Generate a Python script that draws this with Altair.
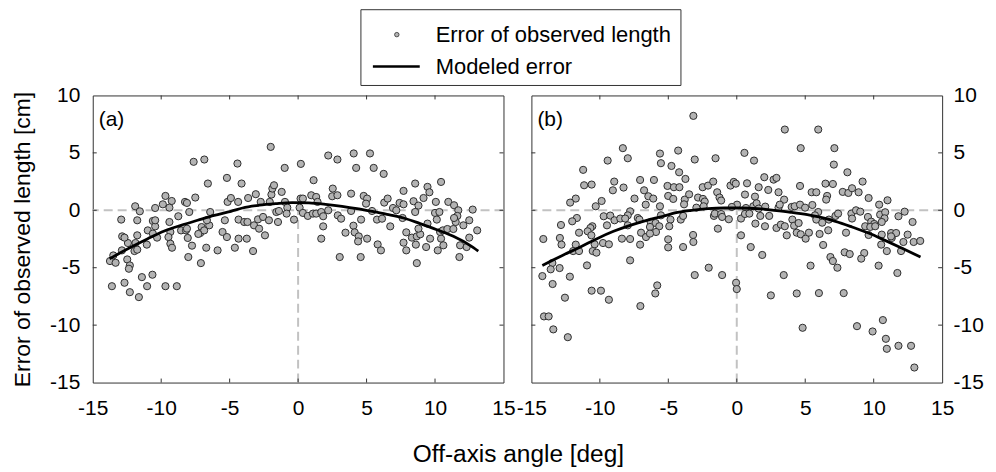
import altair as alt
import pandas as pd

FONT = "Liberation Sans"
X_DOMAIN = [-15, 15]
Y_DOMAIN = [-15, 10]
X_LABELS = [-15, -10, -5, 0, 5, 10, 15]
Y_LABELS = [-15, -10, -5, 0, 5, 10]
X_TICKS = [-10, -5, 0, 5, 10]
Y_TICKS = [-10, -5, 0, 5]

PANEL_TAGS = ["(a)", "(b)"]
LEGEND_LABELS = ["Error of observed length", "Modeled error"]
X_TITLE = "Off-axis angle [deg]"
Y_TITLE = "Error of observed length [cm]"

# panel (a): observed errors
A_X = [-7.63, -6.85, -6.59, -5.20, -9.69, -9.23, -9.88, -8.26, -8.12, -7.51, -9.40, -11.9, -11.56, -10.44,
       -12.92, -11.75, -10.61, -10.44, -9.40, -8.75, -7.95, -6.42, -5.15, -10.98, -10.61, -9.33, -8.55, -8.19,
       -7.05, -7.15, -6.86, -6.49, -6.66, -5.35, -5.52, -12.85, -12.43, -11.75, -11.88, -11.05, -10.30, -9.47,
       -9.33, -9.21, -8.06, -7.75, -7.29, -6.71, -5.88, -5.20, -11.95, -13.5, -12.87, -13.74, -13.33, -12.48,
       -12.29, -12.36, -8.02, -7.10, -11.41, -10.64, -13.6, -12.68, -12.29, -11.03, -9.69, -8.86, -11.63,
       -12.68, -8.12, -10.44, -11.75,
       -2.0, -4.43, -0.98, 0.20, 2.20, 2.87, 4.06, 5.25, 4.24, 5.52, -4.13, 1.13, -4.91, -4.38, -3.65, -3.09,
       -2.73, -2.07, -1.95, -1.88, -1.76, -1.20, -0.96, 0.18, 0.35, 0.96, 1.32, 1.42, 2.53, 2.49, 2.87, 3.87,
       4.79, 5.04, 4.96, -4.35, -3.94, -3.70, -3.22, -2.93, -2.56, -2.13, -2.85, -1.59, -1.40, -1.47, -0.79,
       -0.84, -0.30, 0.11, 0.35, 0.71, 1.08, 1.32, 1.69, 1.83, 2.20, 2.90, 3.14, 3.87, 4.60, 5.40, -4.35, -3.75,
       -4.62, -3.29, -2.42, 1.83, 1.69, 3.46, 4.04, 4.13, 4.43, 4.38, 5.04, 3.04, 4.57,
       6.25, 8.55, 9.45, 9.59, 10.44, 7.70, 6.29, 6.54, 6.93, 7.17, 7.41, 7.70, 8.43, 8.79, 9.16, 10.06, 8.55,
       10.0, 10.32, 10.97, 11.39, 11.70, 12.75, 11.63, 11.51, 10.13, 11.39, 5.76, 6.13, 7.63, 6.73, 7.90, 8.31,
       8.67, 8.92, 8.79, 9.45, 9.64, 10.37, 10.57, 10.44, 10.61, 10.90, 11.34, 12.07, 12.50, 13.08, 12.50,
       11.83, 12.31, 5.81, 6.05, 7.70, 7.90, 8.60, 9.35, 10.20, 11.78, 8.67]
A_Y = [4.22, 4.42, 2.33, 2.82, 1.25, 0.81, 0.52, 0.73, 0.64, 1.11, 0.23, 0.35, -0.09, 0.20,
       -0.81, -0.87, -0.93, -1.40, -1.02, -0.52, -0.15, -0.15, 0.73, -1.75, -2.03, -1.89, -1.75, -1.75,
       -1.46, -1.98, -1.75, -1.31, -0.87, -0.87, -1.89, -2.27, -2.85, -2.18, -2.85, -2.99, -2.38, -2.33,
       -2.91, -3.26, -2.41, -3.08, -2.06, -3.26, -3.49, -2.33, -3.55, -3.93, -3.49, -4.42, -4.57, -4.28,
       -4.80, -5.09, -4.07, -4.60, -5.82, -5.61, -6.61, -6.31, -7.13, -6.61, -6.61, -6.61, -7.56,
       -2.38, -1.60, -0.87, -3.43,
       5.52, 4.07, 3.69, 4.04, 4.77, 4.42, 4.95, 4.95, 3.69, 3.69, 2.33, 2.62, 1.07, 0.73, 1.07, 1.40,
       0.73, 0.73, 1.37, 1.89, 2.18, 1.60, 0.73, 1.02, 1.02, 1.31, 1.16, 0.73, 1.89, 1.22, 1.31, 1.45,
       1.25, 1.02, 0.58, -0.81, -1.02, -1.02, -1.31, -0.79, -0.58, -0.87, -1.60, -0.15, -0.06, -1.02, 0.23,
       -0.29, -0.81, 0.23, -0.23, -0.49, -0.29, -0.29, -0.15, -0.52, 0.0, -0.44, -0.73, -0.06, -0.81, -0.06,
       -2.47, -2.47, -3.26, -3.55, -2.18, -1.40, -2.47, -1.95, -1.34, -1.92, -2.27, -2.71, -2.47, -4.07, -4.07,
       3.17, 2.33, 2.04, 1.57, 2.47, 1.69, 0.67, 1.02, 0.20, 0.0, 0.64, 0.52, 0.79, 0.41, 1.07, 0.73, -0.15,
       -0.23, -0.15, 0.73, 0.44, 0.0, 0.06, -0.49, -1.02, -0.81, -0.67, -0.81, -0.73, -0.67, -1.40, -1.92,
       -2.38, -2.27, -2.09, -1.60, -1.16, -2.47, -1.89, -1.75, -2.47, -3.05, -1.63, -1.63, -1.31, -0.87,
       -1.75, -2.38, -3.05, -3.20, -2.97, -3.49, -2.82, -3.49, -2.99, -3.20, -3.49, -4.07, -4.60]

# panel (b): observed errors
B_X = [-8.32, -7.96, -9.43, -11.22, -5.61, -5.54, -11.15, -10.60, -8.95, -9.05, -8.27, -7.06, -6.05, -6.77,
       -6.46, -6.10, -7.47, -6.65, -11.76, -12.17, -9.87, -10.30, -7.79, -7.96, -9.72, -9.24, -8.93, -8.51,
       -8.15, -7.23, -6.29, -5.93, -5.66, -5.61, -11.68, -12.02, -12.84, -10.55, -10.69, -9.48, -7.96, -6.34,
       -5.90, -14.13, -12.92, -12.8, -11.52, -10.89, -10.62, -8.39, -7.79, -6.99, -6.63, -6.34, -7.06, -11.76,
       -11.95, -11.52, -10.38, -10.52, -9.77, -9.34, -10.94, -7.79, -13.47, -13.59, -12.94, -14.20, -12.19,
       -13.45, -12.55, -10.60, -9.92, -9.34, -7.04, -5.81, -5.95, -14.08, -13.74, -13.40, -12.34, -10.25, -7.11,
       -3.17, 3.51, 4.67, -4.28, 0.56, -1.55, -3.07, 1.26, -4.77, -4.21, -3.75, -5.06, -4.59, -4.19, -2.49,
       -2.10, -1.72, -0.46, -0.22, -0.07, 0.75, 1.60, 2.01, 2.69, 2.90, 4.62, 2.30, 3.05, 3.46, -5.01, -4.64,
       -3.80, -3.48, -3.85, -2.83, -2.47, -2.34, -1.43, -1.26, -1.14, 0.60, 1.33, -2.95, -2.42, 0.02, -0.36,
       0.67, 1.21, 1.45, 1.60, 2.08, 3.05, 3.14, 4.01, 4.23, 4.62, 4.99, -5.54, -4.84, -4.09, -3.92, -1.67,
       -1.60, -1.14, -1.07, -0.58, 0.31, 0.60, 0.92, 1.72, 2.37, -4.93, -1.38, 1.36, 2.06, 2.90, 3.22, 3.51,
       4.06, 4.19, 4.52, 4.38, 4.67, 5.03, 3.65, 0.31, -5.01, -5.01, -3.19, -3.17, -3.92, 1.02, 1.86, -3.07,
       -2.05, -1.07, -0.05, 0.0, 3.43, 2.49, 4.38, 4.81,
       5.95, 7.13, 7.09, 8.08, 9.19, 5.47, 5.81, 6.48, 7.02, 6.60, 6.53, 7.74, 8.15, 8.42, 8.90, 9.63, 11.01,
       10.40, 5.52, 5.95, 5.71, 5.81, 6.24, 6.73, 7.21, 7.40, 8.37, 8.42, 8.71, 9.02, 9.58, 9.82, 10.04, 10.47,
       10.84, 10.79, 10.59, 11.81, 12.26, 12.84, 5.27, 6.05, 6.31, 6.68, 7.98, 9.38, 9.75, 10.11, 9.63, 10.59,
       11.27, 11.64, 11.32, 12.17, 12.48, 12.92, 13.40, 10.55, 10.96, 12.0, 7.88, 8.25, 6.84, 7.02, 7.35, 9.31,
       9.09, 5.39, 10.36, 11.73, 6.0, 7.81, 8.78, 9.92, 10.67, 10.89, 10.96, 11.81, 12.73, 12.97, 11.27]
B_Y = [5.41, 4.53, 4.33, 3.52, 4.94, 4.10, 2.18, 2.24, 2.50, 1.74, 1.98, 2.64, 2.64, 1.74,
       1.22, 1.02, 1.02, 0.49, 1.02, 0.67, 0.81, 0.35, -0.09, -0.44, -0.52, -0.46, -0.87, -0.72,
       -0.72, -0.67, -1.02, -1.11, -1.39, 0.35, -0.67, -0.96, -1.28, -1.39, -1.54, -1.31, -1.31, -1.45,
       -1.89, -2.50, -2.41, -2.99, -1.95, -1.83, -2.18, -2.47, -2.50, -1.95, -2.33, -2.03, -2.99, -2.99,
       -3.55, -3.55, -2.96, -3.55, -2.85, -2.96, -4.80, -4.36, -4.59, -5.14, -5.03, -5.73, -5.78,
       -6.42, -7.61, -7.0, -7.0, -7.79, -8.34, -6.54, -7.24, -9.24, -9.24, -10.37, -11.05, -3.69, -0.81,
       8.22, 7.03, 5.41, 5.20, 5.0, 4.53, 4.42, 4.33, 3.86, 3.31, 2.73, 2.12, 2.01, 2.01, 2.01,
       2.15, 2.50, 2.15, 2.47, 2.32, 2.35, 2.01, 2.88, 2.67, 2.82, 2.12, 1.77, 1.57, 0.93, 1.25, 0.99,
       0.93, 1.39, 0.52, 1.11, 0.99, 0.76, 1.57, 1.11, 0.85, 1.37, 1.19, 0.23, 0.35, 0.49, 0.29,
       0.20, 0.35, 0.61, 0.15, 0.32, 0.23, 0.49, 0.29, 0.35, 0.49, 0.23, -0.44, -0.81, -0.81, -0.49, -0.49,
       -0.29, -0.32, -0.58, -0.78, -0.72, -0.32, -0.29, -0.49, -0.49, -1.39, -1.60, -1.16, -1.39, -1.54, -1.25,
       -1.39, -0.81, -1.34, -1.11, -1.95, -2.09, -2.47, -2.18, -2.18, -2.53, -3.23, -2.15, -2.76, -3.20, -3.20,
       -3.89, -5.64, -5.0, -5.64, -6.31, -6.86, -5.64, -7.41, -7.24, -10.23,
       7.03, 5.41, 3.98, 3.31, 2.50, 1.57, 1.57, 2.32, 2.29, 1.25, 0.93, 1.60, 1.51, 1.92, 1.57, 1.07, 0.87,
       0.49, 0.46, -0.15, -0.44, -0.81, -1.08, -0.81, -0.49, -0.29, -0.29, -0.72, 0.0, -0.12, -0.58, -0.99,
       -1.19, -0.38, -0.17, -0.70, -1.02, -0.52, -0.12, -1.02, -1.95, -2.06, -3.02, -1.74, -1.95, -1.39, -1.45,
       -1.39, -2.15, -2.12, -1.98, -1.98, -2.41, -2.76, -2.12, -2.76, -2.67, -2.99, -3.55, -3.55, -3.66, -3.81,
       -4.07, -4.42, -5.0, -3.72, -4.21, -4.82, -4.82, -5.46, -7.21, -7.21, -10.09, -10.55, -9.56, -11.19,
       -12.06, -11.80, -11.80, -13.69, -2.27]

# modeled error curves
A_CURVE_X = [-13.77, -12.19, -10.98, -9.77, -8.55, -7.34, -6.13, -4.91, -4.06, -2.85, -1.64, -0.43, 0.79,
             2.0, 3.21, 4.43, 5.64, 6.49, 7.7, 8.91, 10.13, 11.34, 12.55, 13.16]
A_CURVE_Y = [-4.22, -3.20, -2.47, -1.80, -1.31, -0.87, -0.44, -0.09, 0.20, 0.44, 0.58, 0.67, 0.64,
             0.52, 0.35, 0.12, -0.15, -0.35, -0.67, -1.16, -1.69, -2.27, -3.05, -3.55]
B_CURVE_X = [-14.2, -12.63, -11.42, -10.21, -9.0, -7.79, -6.58, -5.37, -4.52, -3.31, -2.11, -0.9, 0.31,
             1.52, 2.73, 3.94, 5.15, 6.0, 7.21, 8.42, 9.62, 10.83, 12.04, 13.42]
B_CURVE_Y = [-4.80, -3.87, -3.20, -2.47, -1.83, -1.31, -0.87, -0.52, -0.23, 0.0, 0.15, 0.20, 0.20,
             0.15, 0.0, -0.17, -0.38, -0.58, -0.96, -1.45, -1.98, -2.62, -3.29, -4.07]

W, H = 412, 288
FRAME = "#333333"
DASH = "#c2c2c2"
PT_FILL = "#b3b3b3"
PT_STROKE = "#2e2e2e"

xs = alt.Scale(domain=X_DOMAIN, nice=False, zero=False)
ys = alt.Scale(domain=Y_DOMAIN, nice=False, zero=False)
ONE = pd.DataFrame({"k": [0]})
LBL = "'' + datum.value"

X_AXIS = alt.Axis(values=X_LABELS, ticks=False, tickSize=0, domain=False, grid=False,
                  labelFontSize=21, labelPadding=15, labelFlush=False, labelOverlap=False,
                  labelExpr=LBL, title=None)
Y_AXES = {
    "left": alt.Axis(orient="left", values=Y_LABELS, ticks=False, tickSize=0, domain=False, grid=False,
                     labelFontSize=21, labelPadding=13, labelFlush=False, labelOverlap=False,
                     labelExpr=LBL, title=Y_TITLE, titleFontSize=23, titleFontWeight="normal",
                     titlePadding=15),
    "right": alt.Axis(orient="right", values=Y_LABELS, ticks=False, tickSize=0, domain=False, grid=False,
                      labelFontSize=21, labelPadding=11, labelFlush=False, labelOverlap=False,
                      labelExpr=LBL, title=None),
}


def panel(px, py, cx, cy, tag, side, extra):
    yax = Y_AXES[side]
    X = lambda f: alt.X(f, scale=xs, axis=X_AXIS)
    Y = lambda f: alt.Y(f, scale=ys, axis=yax)
    pts = pd.DataFrame({"x": px, "y": py})
    cur = pd.DataFrame({"x": cx, "y": cy})
    hzero = alt.Chart(pd.DataFrame({"y": [0]})).mark_rule(
        color=DASH, strokeWidth=2, strokeDash=[9, 5]).encode(y=Y("y:Q"))
    vzero = alt.Chart(pd.DataFrame({"x": [0], "y": [-15], "y2": [0]})).mark_rule(
        color=DASH, strokeWidth=2, strokeDash=[9, 5]).encode(x=X("x:Q"), y=Y("y:Q"), y2="y2:Q")
    points = alt.Chart(pts).mark_circle(
        size=52, fill=PT_FILL, stroke=PT_STROKE, strokeWidth=1, opacity=1).encode(x=X("x:Q"), y=Y("y:Q"))
    line = alt.Chart(cur).mark_line(color="black", strokeWidth=2.8, interpolate="monotone").encode(
        x=X("x:Q"), y=Y("y:Q"))
    tx = pd.DataFrame({"t": X_TICKS})
    ty = pd.DataFrame({"t": Y_TICKS})
    tb = alt.Chart(tx).mark_rule(color=FRAME, strokeWidth=1).encode(
        x=X("t:Q"), y=alt.value(H), y2=alt.value(H - 4))
    tt = alt.Chart(tx).mark_rule(color=FRAME, strokeWidth=1).encode(
        x=X("t:Q"), y=alt.value(0), y2=alt.value(4))
    tl = alt.Chart(ty).mark_rule(color=FRAME, strokeWidth=1).encode(
        y=Y("t:Q"), x=alt.value(0), x2=alt.value(4))
    tr = alt.Chart(ty).mark_rule(color=FRAME, strokeWidth=1).encode(
        y=Y("t:Q"), x=alt.value(W), x2=alt.value(W - 4))
    label = alt.Chart(ONE).mark_text(text=tag, font=FONT, fontSize=21, align="left",
                                     baseline="middle", color="black").encode(
        x=alt.value(6), y=alt.value(25))
    return alt.layer(hzero, vzero, points, line, tb, tt, tl, tr, label, *extra).properties(width=W, height=H)


legend = [
    alt.Chart(ONE).mark_rect(fill="white", stroke=FRAME, strokeWidth=1).encode(
        x=alt.value(269), x2=alt.value(590), y=alt.value(-86), y2=alt.value(-10)),
    alt.Chart(ONE).mark_circle(size=20, fill=PT_FILL, stroke=PT_STROKE, strokeWidth=0.8, opacity=1).encode(
        x=alt.value(305), y=alt.value(-61)),
    alt.Chart(ONE).mark_rule(color="black", strokeWidth=2.6).encode(
        x=alt.value(281), x2=alt.value(328), y=alt.value(-29)),
    alt.Chart(ONE).mark_text(text=LEGEND_LABELS[0], font=FONT, fontSize=22, align="left",
                             baseline="middle", color="black").encode(x=alt.value(344), y=alt.value(-61)),
    alt.Chart(ONE).mark_text(text=LEGEND_LABELS[1], font=FONT, fontSize=22, align="left",
                             baseline="middle", color="black").encode(x=alt.value(344), y=alt.value(-29)),
    alt.Chart(ONE).mark_text(text=X_TITLE, font=FONT, fontSize=24.5, align="center",
                             baseline="middle", color="black").encode(x=alt.value(427), y=alt.value(361)),
]

pa = panel(A_X, A_Y, A_CURVE_X, A_CURVE_Y, PANEL_TAGS[0], "left", legend)
pb = panel(B_X, B_Y, B_CURVE_X, B_CURVE_Y, PANEL_TAGS[1], "right", [])

chart = alt.hconcat(pa, pb, spacing=28, bounds="flush").properties(
    padding={"left": 3, "top": 0, "right": 4, "bottom": 4}, background="white"
).configure_view(stroke=FRAME, strokeWidth=1).configure_axis(
    labelFont=FONT, titleFont=FONT, labelColor="black", titleColor="black"
)

chart.save("out.html", embed_options={"renderer": "svg", "actions": False})
